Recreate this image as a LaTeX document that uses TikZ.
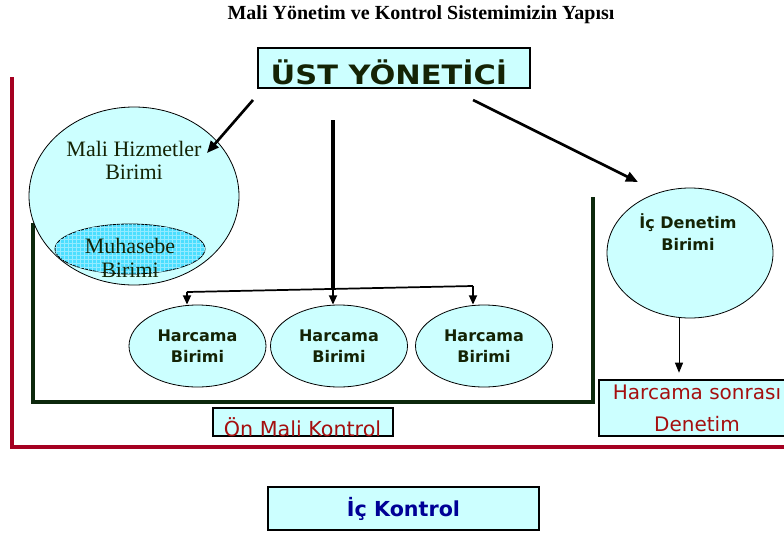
\documentclass[tikz,border=0pt]{standalone}
\usepackage{fontspec}
\setmainfont{Liberation Serif}
\newfontfamily\vfont{DejaVu Sans}
\usetikzlibrary{shapes.geometric,arrows.meta,patterns}

\definecolor{acikmavi}{RGB}{204,255,255}
\definecolor{muhmavi}{RGB}{75,222,255}
\definecolor{kirmizi}{RGB}{165,0,33}
\definecolor{yesil}{RGB}{12,40,12}
\definecolor{koyu}{RGB}{20,35,5}
\definecolor{yazikirmizi}{RGB}{165,15,15}
\definecolor{lacivert}{RGB}{0,0,150}

\tikzset{
  birim/.style={ellipse, draw, line width=0.6pt, fill=acikmavi, inner sep=0pt},
  kutu/.style={draw, line width=0.9pt, fill=acikmavi, inner sep=0pt},
  kalinok/.style={line width=2pt, -{Triangle[length=9pt,width=7.5pt]}},
  inceok/.style={line width=1.3pt, -{Triangle[length=7pt,width=6pt]}},
  kalemok/.style={line width=0.7pt, -{Triangle[length=7.5pt,width=6pt]}},
  sans/.style={font=\vfont\bfseries\fontsize{12}{15.75}\selectfont, text=koyu, align=center},
}

\begin{document}
\begin{tikzpicture}[x=0.75pt,y=-0.75pt]
    \useasboundingbox (0,0) rectangle (784,539);
    \clip (0,0) rectangle (784,539);

    % Baslik
    \node[font=\bfseries\fontsize{15}{18}\selectfont] (baslik) at (421,15)
        {Mali Yönetim ve Kontrol Sistemimizin Yapısı};

    % Cerceveler
    \draw[kirmizi, line width=3.5pt] (12,77) -- (12,447) -- (795,447);
    \draw[yesil, line width=2.3pt] (33,223) -- (33,402) -- (593,402) -- (593,197);

    % Ust yonetici
    \node[kutu, line width=1.5pt, minimum width=204pt, minimum height=30pt] (ust) at (394,68) {};
    \node[anchor=base, font=\vfont\bfseries\fontsize{20}{22}\selectfont, text=koyu]
        (ustyazi) at (389,84) {\scalebox{1.14}[1]{ÜST YÖNETİCİ}};

    % Mali hizmetler birimi
    \node[birim, minimum width=157.5pt, minimum height=133.5pt] (mali) at (134,196) {};
    \node[anchor=north, inner sep=0pt, align=center, text=koyu,
          font=\fontsize{16.5}{17.25}\selectfont] (maliyazi) at (134,141) {Mali Hizmetler\\Birimi};
    \node[birim, fill=muhmavi, minimum width=112.5pt, minimum height=37.5pt,
          postaction={pattern=grid, pattern color=muhmavi!60!white}] (muh) at (130,249) {};
    \node[anchor=north, inner sep=0pt, align=center, text=koyu,
          font=\fontsize{16.5}{18}\selectfont] (muhyazi) at (130,238) {Muhasebe\\Birimi};

    % Harcama birimleri
    \node[birim, sans, minimum width=102.75pt, minimum height=61.5pt] (h1) at (197.5,346) {Harcama\\Birimi};
    \node[birim, sans, minimum width=102.75pt, minimum height=61.5pt] (h2) at (339,346) {Harcama\\Birimi};
    \node[birim, sans, minimum width=102.75pt, minimum height=61.5pt] (h3) at (484,346) {Harcama\\Birimi};

    % Ic denetim birimi
    \node[birim, minimum width=124.5pt, minimum height=97.5pt] (ic) at (690,253) {};
    \node[anchor=north, inner sep=0pt, sans, font=\vfont\bfseries\fontsize{12}{16.5}\selectfont]
        (icyazi) at (688,213) {İç Denetim\\Birimi};

    % Kutular
    \node[kutu, minimum width=147pt, minimum height=42pt] (hs) at (697,408) {};
    \node[anchor=north, inner sep=0pt, align=center, text=yazikirmizi,
          font=\vfont\fontsize{15}{24}\selectfont] (hsyazi) at (697,385) {Harcama sonrası\\Denetim};
    \node[kutu, minimum width=135pt, minimum height=21pt] (on) at (303,422) {};
    \node[anchor=base, inner sep=0pt, text=yazikirmizi,
          font=\vfont\fontsize{15.5}{18}\selectfont] (onyazi) at (302.5,436) {Ön Mali Kontrol};
    \node[kutu, minimum width=203.25pt, minimum height=32.25pt, text=lacivert,
          font=\vfont\bfseries\fontsize{15.5}{17}\selectfont] (ick) at (403.5,508.5) {İç Kontrol};

    % Oklar
    \coordinate (u1) at (253,100);
    \coordinate (u2) at (333,120);
    \coordinate (u3) at (473,100);
    \coordinate (maliuc) at (207,153);
    \coordinate (icuc) at (638,182);
    \draw[kalinok] (u1) -- (maliuc);
    \draw[kalinok] (u3) -- (icuc);
    \draw[line width=2.6pt] (u2) -- (333,290);

    % Dallar
    \coordinate (d1) at (187,292);
    \coordinate (d2) at (333,289);
    \coordinate (d3) at (473,286);
    \draw[line width=1.3pt] (d1) -- (d3);
    \draw[inceok] (d1) -- (d1 |- h1.north);
    \draw[inceok] (d2) -- (d2 |- h2.north);
    \draw[inceok] (d3) -- (d3 |- h3.north);

    \coordinate (icalt) at (679,318);
    \draw[kalemok, shorten >=5pt] (icalt) -- (icalt |- hs.north);
\end{tikzpicture}
\end{document}
